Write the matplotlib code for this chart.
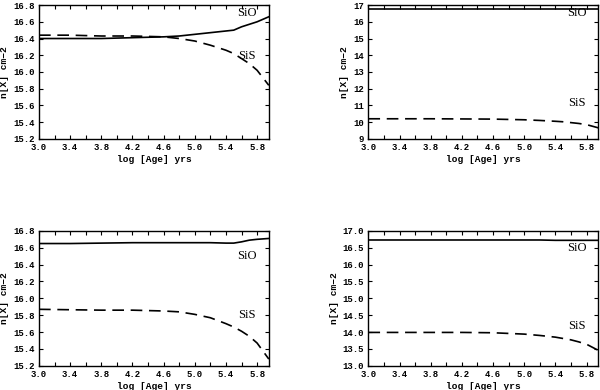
import numpy as np
import matplotlib
matplotlib.use("Agg")
import matplotlib.pyplot as plt
from matplotlib.ticker import MultipleLocator, FixedLocator, FormatStrFormatter
from matplotlib.font_manager import FontProperties

# log age grid (yrs)
age = [3.0, 3.4, 3.8, 4.2, 4.6, 4.8, 5.0, 5.2, 5.4, 5.5, 5.6, 5.7, 5.8, 5.95]

# panel 1 (top left)
sio_1 = [16.40, 16.40, 16.40, 16.41, 16.42, 16.43, 16.45, 16.47, 16.49, 16.50, 16.54, 16.57, 16.60, 16.66]
sis_1 = [16.44, 16.44, 16.43, 16.43, 16.42, 16.40, 16.37, 16.32, 16.26, 16.22, 16.16, 16.10, 16.02, 15.84]
# panel 2 (top right)
sio_2 = [16.74, 16.74, 16.74, 16.74, 16.74, 16.74, 16.74, 16.74, 16.74, 16.74, 16.74, 16.74, 16.74, 16.74]
sis_2 = [10.20, 10.20, 10.20, 10.19, 10.18, 10.16, 10.14, 10.10, 10.05, 10.02, 9.97, 9.92, 9.85, 9.66]
# panel 3 (bottom left)
sio_3 = [16.65, 16.65, 16.655, 16.66, 16.66, 16.66, 16.66, 16.66, 16.655, 16.655, 16.67, 16.69, 16.70, 16.71]
sis_3 = [15.87, 15.865, 15.86, 15.86, 15.85, 15.84, 15.81, 15.77, 15.70, 15.66, 15.61, 15.55, 15.47, 15.28]
# panel 4 (bottom right)
sio_4 = [16.73, 16.73, 16.73, 16.73, 16.73, 16.73, 16.73, 16.73, 16.72, 16.72, 16.72, 16.72, 16.72, 16.72]
sis_4 = [13.99, 13.99, 13.99, 13.99, 13.98, 13.96, 13.94, 13.90, 13.85, 13.81, 13.77, 13.71, 13.64, 13.46]

xticks = [3.0, 3.4, 3.8, 4.2, 4.6, 5.0, 5.4, 5.8]

panels = [
    # (sio, sis, ylim, ystep, yfmt, sio label y, sis label y, axes rect)
    (sio_1, sis_1, (15.2, 16.8), 0.2, "%.1f", 16.70, 16.19, [0.065, 0.644, 0.383, 0.343]),
    (sio_2, sis_2, (9, 17), 1.0, "%d", 16.52, 11.15, [0.614, 0.644, 0.383, 0.343]),
    (sio_3, sis_3, (15.2, 16.8), 0.2, "%.1f", 16.50, 15.80, [0.065, 0.062, 0.383, 0.346]),
    (sio_4, sis_4, (13.0, 17.0), 0.5, "%.1f", 16.50, 14.18, [0.614, 0.062, 0.383, 0.346]),
]

tick_fp = FontProperties(family="Liberation Mono", weight="bold", size=6.5)
lab_font = {"family": "Liberation Mono", "weight": "bold", "size": 6.8}

fig = plt.figure(figsize=(6, 3.9), dpi=100)

for sio, sis, ylim, ystep, yfmt, y_sio, y_sis, rect in panels:
    ax = fig.add_axes(rect)
    ax.plot(age, sio, color="black", lw=1.2)
    ax.plot(age, sis, color="black", lw=1.2, dashes=(7, 4))
    ax.set_xlim(3.0, 5.95)
    ax.set_ylim(*ylim)
    ax.xaxis.set_major_locator(FixedLocator(xticks))
    ax.xaxis.set_minor_locator(MultipleLocator(0.2))
    ax.yaxis.set_major_locator(MultipleLocator(ystep))
    ax.xaxis.set_major_formatter(FormatStrFormatter("%.1f"))
    ax.yaxis.set_major_formatter(FormatStrFormatter(yfmt))
    ax.tick_params(which="both", direction="in", top=True, right=True,
                   length=3, width=0.8, pad=3)
    for lab in ax.get_xticklabels() + ax.get_yticklabels():
        lab.set_fontproperties(tick_fp)
    for sp in ax.spines.values():
        sp.set_linewidth(1.0)
    ax.set_xlabel("log [Age] yrs", fontdict=lab_font, labelpad=2)
    ax.set_ylabel("n[X] cm\u22122", fontdict=lab_font, labelpad=3)
    ax.text(5.67, y_sio, "SiO", family="Liberation Serif", fontsize=9,
            ha="center", va="center")
    ax.text(5.67, y_sis, "SiS", family="Liberation Serif", fontsize=9,
            ha="center", va="center")

fig.savefig("out.png", dpi=100)
